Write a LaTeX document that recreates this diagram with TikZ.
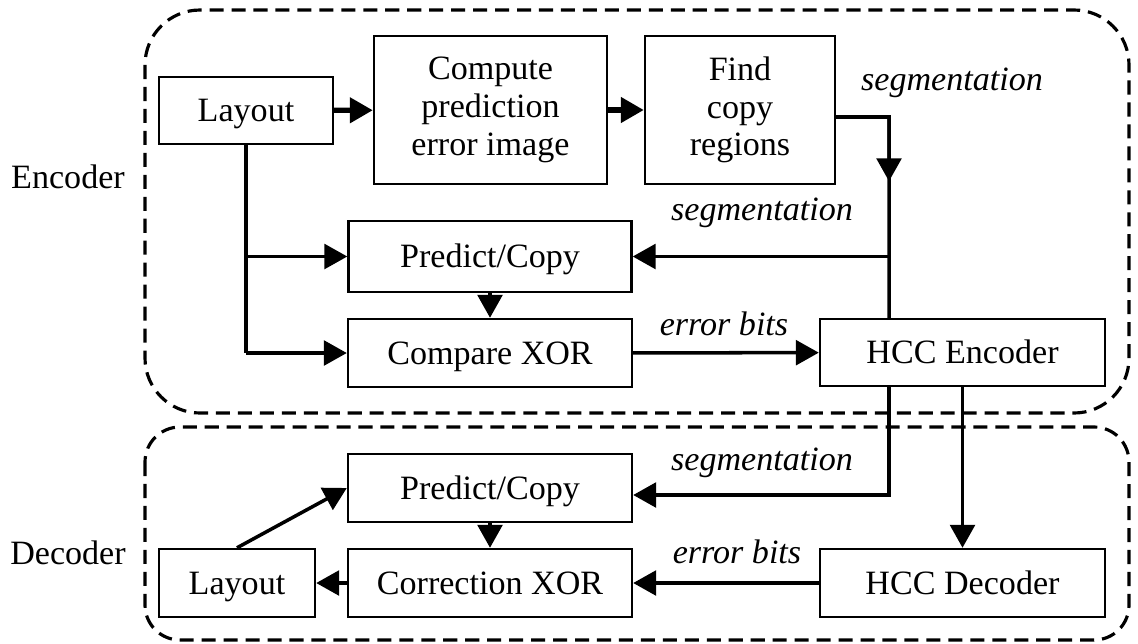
\documentclass[tikz,border=0pt]{standalone}
\usepackage{fontspec}
\setmainfont{Liberation Serif}
\usetikzlibrary{arrows.meta,calc}
\begin{document}
\begin{tikzpicture}[x=0.02cm, y=-0.02cm, line join=miter, >={Triangle[length=13pt,width=14pt]},
	font=\fontsize{19.4}{21.5}\selectfont,
	blok/.style={draw, line width=1.4pt, inner sep=0pt, align=center},
	one/.style={blok, text height=15pt, text depth=2pt},
	link/.style={line width=2pt},
	biglink/.style={line width=3pt},
	lbl/.style={font=\fontsize{19.4}{21.5}\selectfont\itshape, inner sep=0pt, anchor=base},
	zone/.style={line width=1.8pt, dash pattern=on 8pt off 4.5pt}]
	\useasboundingbox (0,0) rectangle (1138,643);
	% dashed zones
	\draw[zone, rounded corners=1.1cm] (145,10) rectangle (1129,413);
	\draw[zone, rounded corners=0.7cm] (145,427) rectangle (1129,640);
	\node[text height=15pt, text depth=2pt] (enc) at (68,177) {Encoder};
	\node[text height=15pt, text depth=2pt] (dec) at (68,553) {Decoder};
	% encoder blocks
	\node[one, minimum width=3.48cm, minimum height=1.34cm] (lay) at (246,110.5) {Layout};
	\node[blok, minimum width=4.66cm, minimum height=2.96cm] (comp) at (490.5,110) {Compute\\prediction\\error image};
	\node[blok, minimum width=3.8cm, minimum height=2.96cm] (find) at (740,110) {Find\\copy\\regions};
	\node[one, minimum width=5.66cm, minimum height=1.42cm] (pce) at (490,256.5) {Predict/Copy};
	\node[one, minimum width=5.68cm, minimum height=1.36cm] (cmp) at (490,353) {Compare XOR};
	\node[one, minimum width=5.7cm, minimum height=1.34cm] (henc) at (962.5,352.5) {HCC Encoder};
	% decoder blocks
	\node[one, minimum width=5.68cm, minimum height=1.36cm] (pcd) at (490,488) {Predict/Copy};
	\node[one, minimum width=5.68cm, minimum height=1.36cm] (cor) at (490,583) {Correction XOR};
	\node[one, minimum width=3.12cm, minimum height=1.36cm] (layd) at (237,583) {Layout};
	\node[one, minimum width=5.7cm, minimum height=1.36cm] (hdec) at (962.5,583) {HCC Decoder};
	% connectors
	\coordinate (sj) at (889,117);
	\draw[biglink,->] (lay) -- (comp);
	\draw[biglink,->] (comp) -- (find);
	\draw[link] ([yshift=-0.14cm]find.east) -- (sj) -- (sj |- henc.north);
	\draw[link,->] (sj) -- ($(sj)!0.32!(sj |- henc.north)$);
	\draw[link,->] (sj |- pce.east) -- (pce.east);
	\draw[link] (lay.south) -- (lay.south |- cmp.west);
	\draw[link,->] (lay.south |- pce.west) -- (pce.west);
	\draw[link,->] (lay.south |- cmp.west) -- (cmp.west);
	\draw[link,->] (pce) -- (cmp);
	\draw[link,->] (cmp) -- (henc);
	\draw[link,->] (henc.south -| sj) |- ([yshift=-0.14cm]pcd.east);
	\draw[link,->] (henc) -- (hdec);
	\draw[link,->] (hdec) -- (cor);
	\draw[link,->] (pcd) -- (cor);
	\draw[link,->] (cor) -- (layd);
	\draw[link,->] (layd.north) -- (pcd.west);
	% connector labels
	\node[lbl] (seg1) at (952,90) {segmentation};
	\node[lbl] (seg2) at (762,220) {segmentation};
	\node[lbl] (err1) at (724,335) {error bits};
	\node[lbl] (seg3) at (762,470) {segmentation};
	\node[lbl] (err2) at (737,563) {error bits};
\end{tikzpicture}
\end{document}
